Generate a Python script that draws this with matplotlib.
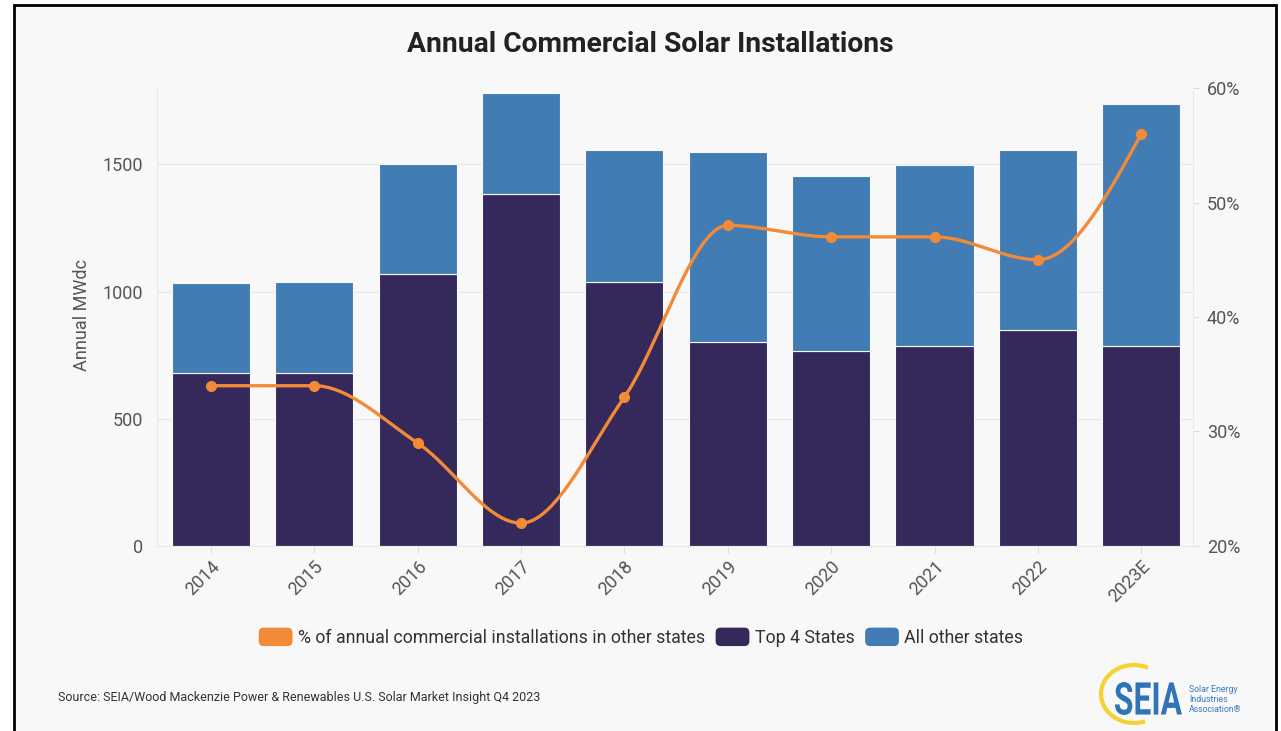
import numpy as np
import matplotlib
matplotlib.use("Agg")
import matplotlib.pyplot as plt
from matplotlib.patches import Rectangle, FancyBboxPatch, Patch, PathPatch, Arc
from matplotlib.legend_handler import HandlerPatch
from matplotlib.textpath import TextPath
from matplotlib.font_manager import FontProperties
from matplotlib.transforms import Affine2D

plt.rcParams["font.family"] = ["Roboto", "DejaVu Sans"]

# ---- data ----
years = ["2014", "2015", "2016", "2017", "2018", "2019", "2020", "2021", "2022", "2023E"]
top4_states = [680, 680, 1068, 1383, 1037, 801, 766, 786, 848, 786]
other_states = [353, 357, 432, 396, 518, 747, 687, 711, 707, 950]
pct_other = [34, 34, 29, 22, 33, 48, 47, 47, 45, 56]

NAVY = "#34295a"
BLUE = "#417cb5"
ORANGE = "#f28a38"
BG = "#f8f8f8"
GRID = "#e9e9e9"
TICK = "#555555"


def monotone_x(x, y, n=40):
    """Monotone cubic Hermite curve (d3 curveMonotoneX style)."""
    x = np.asarray(x, float)
    y = np.asarray(y, float)
    h = np.diff(x)
    s = np.diff(y) / h
    m = np.zeros_like(y)
    for i in range(1, len(y) - 1):
        h0, h1 = h[i - 1], h[i]
        s0, s1 = s[i - 1], s[i]
        p = (s0 * h1 + s1 * h0) / (h0 + h1)
        m[i] = (np.sign(s0) + np.sign(s1)) * min(abs(s0), abs(s1), 0.5 * abs(p))
    m[0] = (3 * s[0] - m[1]) / 2
    m[-1] = (3 * s[-1] - m[-2]) / 2
    xs, ys = [], []
    for i in range(len(x) - 1):
        t = np.linspace(0, 1, n)
        h00 = 2 * t**3 - 3 * t**2 + 1
        h10 = t**3 - 2 * t**2 + t
        h01 = -2 * t**3 + 3 * t**2
        h11 = t**3 - t**2
        xs.append(x[i] + t * h[i])
        ys.append(h00 * y[i] + h10 * h[i] * m[i] + h01 * y[i + 1] + h11 * h[i] * m[i + 1])
    return np.concatenate(xs), np.concatenate(ys)


fig = plt.figure(figsize=(12.81, 7.31), dpi=100, facecolor="white")

# framed light panel
frame = Rectangle((14 / 1281, -0.02), (1276 - 14) / 1281, 1.02 - 5 / 731,
                  transform=fig.transFigure, facecolor=BG, edgecolor="black",
                  linewidth=2, zorder=-10)
fig.add_artist(frame)

ax = fig.add_axes([157 / 1281, 1 - 546 / 731, (1193 - 157) / 1281, (546 - 88) / 731])
ax.set_facecolor("none")
x = np.arange(len(years))

ax.bar(x, top4_states, width=0.755, color=NAVY, edgecolor=BG, linewidth=0.8, zorder=2)
ax.bar(x, other_states, bottom=top4_states, width=0.755, color=BLUE,
       edgecolor=BG, linewidth=0.8, zorder=2)

ax.set_xlim(-0.52, 9.5)
ax.set_ylim(0, 1800)
ax.set_yticks([0, 500, 1000, 1500])
ax.yaxis.grid(True, color=GRID, linewidth=1, zorder=0)
ax.set_axisbelow(True)
for side in ["top", "right"]:
    ax.spines[side].set_visible(False)
ax.spines["left"].set_color(GRID)
ax.spines["bottom"].set_color(GRID)
ax.tick_params(axis="y", length=0, pad=10, labelsize=13, labelcolor=TICK)
ax.tick_params(axis="x", length=5, color="#dddddd", pad=3, labelsize=13, labelcolor=TICK)
ax.set_xticks(x)
ax.set_xticklabels(years, rotation=45, ha="right", va="top", rotation_mode="anchor")
ax.set_ylabel("Annual MWdc", fontsize=13, color=TICK)
ax.yaxis.set_label_coords(-0.0637, 0.504)

ax2 = ax.twinx()
ax2.set_ylim(20, 60)
ax2.set_yticks([20, 30, 40, 50, 60])
ax2.set_yticklabels([f"{v}%" for v in [20, 30, 40, 50, 60]])
for side in ["top", "left", "bottom"]:
    ax2.spines[side].set_visible(False)
ax2.spines["right"].set_color(GRID)
ax2.tick_params(axis="y", length=4, color="#dddddd", pad=6, labelsize=13, labelcolor=TICK)

cx, cy = monotone_x(x, pct_other)
ax2.plot(cx, cy, color=ORANGE, linewidth=2.4, solid_capstyle="round", zorder=3)
ax2.plot(x, pct_other, "o", color=ORANGE, markersize=7, zorder=4)

# title
fig.text(650 / 1281, 1 - 44 / 731, "Annual Commercial Solar Installations",
         ha="center", va="center", fontsize=20.3, fontweight="bold", color="#222222")


# legend with rounded swatches
class RoundHandler(HandlerPatch):
    def create_artists(self, legend, orig_handle, xdescent, ydescent, width, height,
                       fontsize, trans):
        p = FancyBboxPatch((-xdescent, -ydescent - 0.15 * height), width, height * 1.3,
                           boxstyle=f"round,pad=0,rounding_size={height * 0.35}",
                           facecolor=orig_handle.get_facecolor(), edgecolor="none",
                           transform=trans)
        return [p]


handles = [Patch(facecolor=ORANGE), Patch(facecolor=NAVY), Patch(facecolor=BLUE)]
labels = ["% of annual commercial installations in other states", "Top 4 States",
          "All other states"]
fig.legend(handles, labels, loc="center", bbox_to_anchor=(641 / 1281, 1 - 638 / 731),
           ncol=3, frameon=False, fontsize=12.8, handlelength=1.9, handleheight=0.85,
           handletextpad=0.3, columnspacing=0.6, labelcolor="#333333",
           handler_map={Patch: RoundHandler()})

# source line
fig.text(58 / 1281, 1 - 698 / 731,
         "Source: SEIA/Wood Mackenzie Power & Renewables U.S. Solar Market Insight Q4 2023",
         ha="left", va="center", fontsize=9.0, color="#333333")

# SEIA logo
ring = Arc((11.34, 0.37), 0.66, 0.58, theta1=62, theta2=292, color="#f5d234",
           linewidth=3.0, transform=fig.dpi_scale_trans, zorder=5)
fig.add_artist(ring)
tp = TextPath((0, 0), "SEIA", size=10, prop=FontProperties(family="Roboto", weight="bold"))
bb = tp.get_extents()
w_px, h_px = 67, 33
tr = (Affine2D().translate(-bb.x0, -bb.y0)
      .scale(w_px / bb.width, h_px / bb.height)
      .translate(1115, 731 - 715).scale(1 / 100))
logo = PathPatch(tr.transform_path(tp), facecolor="#2f74b6", edgecolor="none",
                 transform=fig.dpi_scale_trans, zorder=6)
fig.add_artist(logo)
for i, line in enumerate(["Solar Energy", "Industries", "Association®"]):
    fig.text(1189 / 1281, 1 - (690 + i * 10) / 731, line, ha="left", va="center",
             fontsize=6.3, color="#3a7bbf")

fig.savefig("out.png", dpi=100, facecolor="white")
